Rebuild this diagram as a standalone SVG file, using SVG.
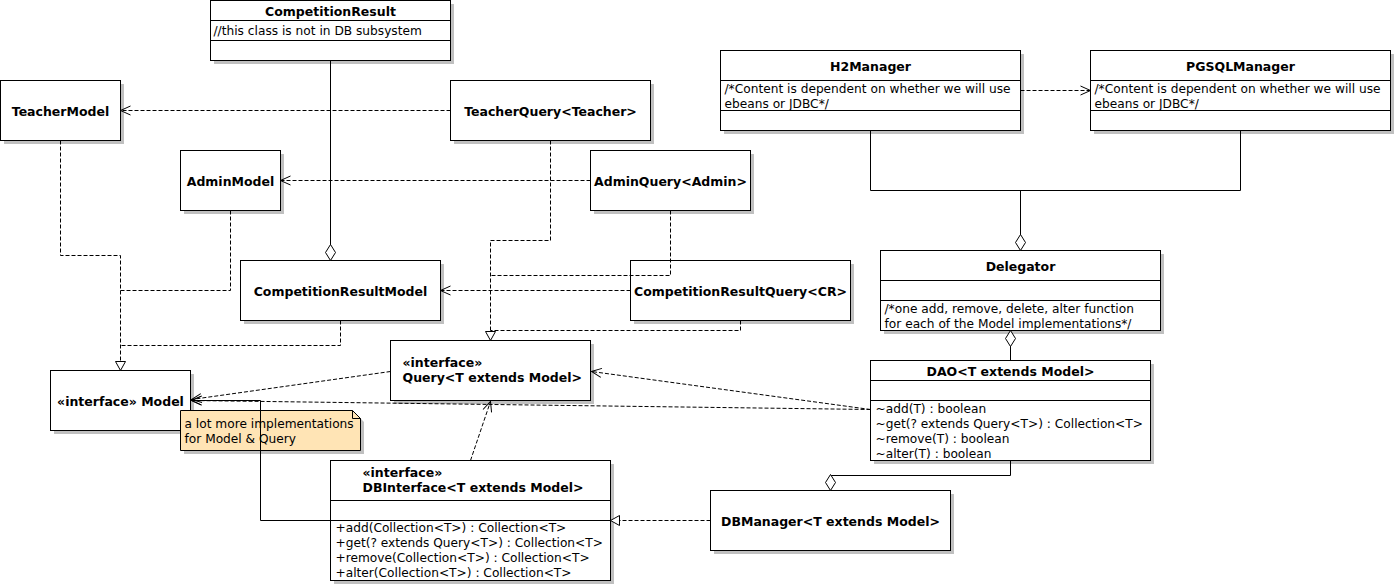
<svg xmlns="http://www.w3.org/2000/svg" width="1395" height="585" viewBox="0 0 1395 585">
  <style>
    .box{fill:#fff;stroke:#000;stroke-width:1}
    .shadow{fill:#c0c0c0;stroke:none}
    .note{fill:#ffe4b5;stroke:#000;stroke-width:1}
    .sep{stroke:#000;stroke-width:1;fill:none}
    .t{font-family:"DejaVu Sans",sans-serif;font-size:12.2px;fill:#000}
    .b{font-weight:bold;font-size:12.5px}
    .m{text-anchor:middle}
    .solid{fill:none;stroke:#000;stroke-width:1}
    .dash{fill:none;stroke:#000;stroke-width:1;stroke-dasharray:4 2}
  </style>
  <defs>
    <!-- open arrowhead (dependency / navigable association) -->
    <marker id="arrow" markerUnits="userSpaceOnUse" orient="auto" viewBox="-12 -6 13 12" markerWidth="13" markerHeight="12" refX="0" refY="0">
      <path d="M-10,-4.5 L0,0 L-10,4.5" fill="none" stroke="#000" stroke-width="1"/>
    </marker>
    <!-- hollow triangle (realization) -->
    <marker id="tri" markerUnits="userSpaceOnUse" orient="auto" viewBox="-12 -6 13 12" markerWidth="13" markerHeight="12" refX="0" refY="0">
      <path d="M-9,-5 L0,0 L-9,5 Z" fill="#fff" stroke="#000" stroke-width="1"/>
    </marker>
    <!-- hollow diamond (aggregation) -->
    <marker id="diamond" markerUnits="userSpaceOnUse" orient="auto" viewBox="-18 -6 19 12" markerWidth="19" markerHeight="12" refX="0" refY="0">
      <path d="M0,0 L-8,-5 L-16,0 L-8,5 Z" fill="#fff" stroke="#000" stroke-width="1"/>
    </marker>
  </defs>

  <g transform="translate(0.5,0.5)">
    <!-- ===== nodes ===== -->
    <g id="CompetitionResult">
      <rect class="shadow" x="213.5" y="3.5" width="240" height="60"/>
      <rect class="box" x="210" y="0" width="240" height="60"/>
      <path class="sep" d="M210,20 H450 M210,40 H450"/>
      <text class="t b m" x="330" y="15">CompetitionResult</text>
      <text class="t" x="213" y="34.5">//this class is not in DB subsystem</text>
    </g>

    <g id="TeacherModel">
      <rect class="shadow" x="3.5" y="83.5" width="120" height="60"/>
      <rect class="box" x="0" y="80" width="120" height="60"/>
      <text class="t b m" x="60" y="115">TeacherModel</text>
    </g>

    <g id="AdminModel">
      <rect class="shadow" x="183.5" y="153.5" width="100" height="60"/>
      <rect class="box" x="180" y="150" width="100" height="60"/>
      <text class="t b m" x="230" y="185">AdminModel</text>
    </g>

    <g id="TeacherQuery">
      <rect class="shadow" x="453.5" y="83.5" width="200" height="60"/>
      <rect class="box" x="450" y="80" width="200" height="60"/>
      <text class="t b m" x="550" y="115">TeacherQuery&lt;Teacher&gt;</text>
    </g>

    <g id="AdminQuery">
      <rect class="shadow" x="593.5" y="153.5" width="160" height="60"/>
      <rect class="box" x="590" y="150" width="160" height="60"/>
      <text class="t b m" x="670" y="185">AdminQuery&lt;Admin&gt;</text>
    </g>

    <g id="CompetitionResultModel">
      <rect class="shadow" x="243.5" y="263.5" width="200" height="60"/>
      <rect class="box" x="240" y="260" width="200" height="60"/>
      <text class="t b m" x="340" y="295">CompetitionResultModel</text>
    </g>

    <g id="CompetitionResultQuery">
      <rect class="shadow" x="633.5" y="263.5" width="220" height="60"/>
      <rect class="box" x="630" y="260" width="220" height="60"/>
      <text class="t b m" x="740" y="295">CompetitionResultQuery&lt;CR&gt;</text>
    </g>

    <g id="Query">
      <rect class="shadow" x="393.5" y="343.5" width="200" height="60"/>
      <rect class="box" x="390" y="340" width="200" height="60"/>
      <text class="t b" x="402" y="366.5">«interface»</text>
      <text class="t b" x="402" y="381.5">Query&lt;T extends Model&gt;</text>
    </g>

    <g id="Model">
      <rect class="shadow" x="53.5" y="373.5" width="140" height="60"/>
      <rect class="box" x="50" y="370" width="140" height="60"/>
      <text class="t b m" x="120" y="405">«interface» Model</text>
    </g>

    <g id="Note">
      <path class="shadow" d="M183.5,413.5 H355.5 L363.5,421.5 V453.5 H183.5 Z"/>
      <path class="note" d="M180,410 H352 L360,418 V450 H180 Z"/>
      <path class="sep" d="M352,410 V418 H360"/>
      <text class="t" x="184" y="427">a lot more implementations</text>
      <text class="t" x="184" y="442">for Model &amp; Query</text>
    </g>

    <g id="DBInterface">
      <rect class="shadow" x="333.5" y="463.5" width="280" height="120"/>
      <rect class="box" x="330" y="460" width="280" height="120"/>
      <path class="sep" d="M330,500 H610 M330,520 H610"/>
      <text class="t b" x="362" y="476.5">«interface»</text>
      <text class="t b" x="362" y="491.5">DBInterface&lt;T extends Model&gt;</text>
      <text class="t" x="335" y="531.5">+add(Collection&lt;T&gt;) : Collection&lt;T&gt;</text>
      <text class="t" x="335" y="546.5">+get(? extends Query&lt;T&gt;) : Collection&lt;T&gt;</text>
      <text class="t" x="335" y="561.5">+remove(Collection&lt;T&gt;) : Collection&lt;T&gt;</text>
      <text class="t" x="335" y="576.5">+alter(Collection&lt;T&gt;) : Collection&lt;T&gt;</text>
    </g>

    <g id="DBManager">
      <rect class="shadow" x="713.5" y="493.5" width="240" height="60"/>
      <rect class="box" x="710" y="490" width="240" height="60"/>
      <text class="t b m" x="830" y="525">DBManager&lt;T extends Model&gt;</text>
    </g>

    <g id="H2Manager">
      <rect class="shadow" x="723.5" y="53.5" width="300" height="80"/>
      <rect class="box" x="720" y="50" width="300" height="80"/>
      <path class="sep" d="M720,80 H1020 M720,110 H1020"/>
      <text class="t b m" x="870" y="70">H2Manager</text>
      <text class="t" x="724" y="92.5">/*Content is dependent on whether we will use</text>
      <text class="t" x="724" y="107">ebeans or JDBC*/</text>
    </g>

    <g id="PGSQLManager">
      <rect class="shadow" x="1093.5" y="53.5" width="300" height="80"/>
      <rect class="box" x="1090" y="50" width="300" height="80"/>
      <path class="sep" d="M1090,80 H1390 M1090,110 H1390"/>
      <text class="t b m" x="1240" y="70">PGSQLManager</text>
      <text class="t" x="1094" y="92.5">/*Content is dependent on whether we will use</text>
      <text class="t" x="1094" y="107">ebeans or JDBC*/</text>
    </g>

    <g id="Delegator">
      <rect class="shadow" x="883.5" y="253.5" width="280" height="80"/>
      <rect class="box" x="880" y="250" width="280" height="80"/>
      <path class="sep" d="M880,280 H1160 M880,300 H1160"/>
      <text class="t b m" x="1020" y="270">Delegator</text>
      <text class="t" x="884" y="312">/*one add, remove, delete, alter function</text>
      <text class="t" x="884" y="327">for each of the Model implementations*/</text>
    </g>

    <g id="DAO">
      <rect class="shadow" x="873.5" y="363.5" width="280" height="100"/>
      <rect class="box" x="870" y="360" width="280" height="100"/>
      <path class="sep" d="M870,380 H1150 M870,400 H1150"/>
      <text class="t b m" x="1010" y="375">DAO&lt;T extends Model&gt;</text>
      <text class="t" x="875" y="412">~add(T) : boolean</text>
      <text class="t" x="875" y="427">~get(? extends Query&lt;T&gt;) : Collection&lt;T&gt;</text>
      <text class="t" x="875" y="442">~remove(T) : boolean</text>
      <text class="t" x="875" y="457">~alter(T) : boolean</text>
    </g>

    <!-- ===== connectors ===== -->
    <g id="connectors">
      <!-- aggregation: CompetitionResultModel is part of CompetitionResult -->
      <path class="solid" d="M330,60 V260" marker-end="url(#diamond)"/>

      <!-- query to model dependencies -->
      <path class="dash" d="M450,110 H120" marker-end="url(#arrow)"/>
      <path class="dash" d="M590,180 H280" marker-end="url(#arrow)"/>
      <path class="dash" d="M630,290 H440" marker-end="url(#arrow)"/>

      <!-- realizations of Model -->
      <path class="dash" d="M60,140 V255 H120 V370" marker-end="url(#tri)"/>
      <path class="dash" d="M230,210 V290 H120"/>
      <path class="dash" d="M340,320 V345 H120"/>

      <!-- realizations of Query -->
      <path class="dash" d="M550,140 V240 H490 V340" marker-end="url(#tri)"/>
      <path class="dash" d="M670,210 V275 H490"/>
      <path class="dash" d="M740,320 V330 H490"/>

      <!-- H2Manager depends on PGSQLManager -->
      <path class="dash" d="M1020,90 H1090" marker-end="url(#arrow)"/>

      <!-- managers aggregated by Delegator -->
      <path class="solid" d="M870,130 V190 H1240 V130"/>
      <path class="solid" d="M1020,190 V250" marker-end="url(#diamond)"/>

      <!-- DAO aggregated by Delegator -->
      <path class="solid" d="M1010,360 V330" marker-end="url(#diamond)"/>

      <!-- DAO aggregated by DBManager -->
      <path class="solid" d="M1010,460 V475 H830 V490" marker-end="url(#diamond)"/>

      <!-- DBManager realizes DBInterface -->
      <path class="dash" d="M710,520 H610" marker-end="url(#tri)"/>

      <!-- DBInterface uses Model -->
      <path class="solid" d="M330,520 H260 V400 H191" marker-end="url(#arrow)"/>

      <!-- DAO dependencies -->
      <path class="dash" d="M870,409 L191,400" marker-end="url(#arrow)"/>
      <path class="dash" d="M870,409 L591,371" marker-end="url(#arrow)"/>

      <!-- Query uses Model -->
      <path class="dash" d="M390,371 L191,399" marker-end="url(#arrow)"/>

      <!-- DBInterface uses Query -->
      <path class="dash" d="M470,460 L490,401" marker-end="url(#arrow)"/>
    </g>
  </g>
</svg>
